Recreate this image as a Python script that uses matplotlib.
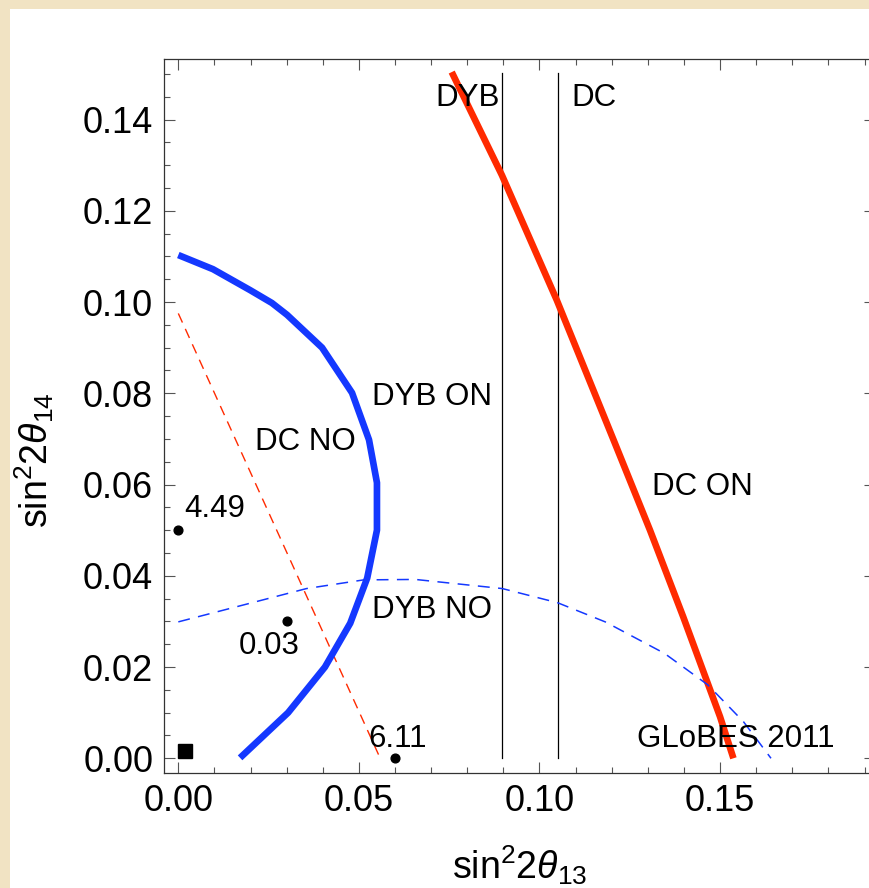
import matplotlib
matplotlib.use("Agg")
import matplotlib.pyplot as plt
from matplotlib.patches import Rectangle
import numpy as np

# ---------------- data ----------------
# thick blue contour (DYB ON)
dyb_on_x = [0.0000, 0.0096, 0.0199, 0.0259, 0.0301, 0.0398, 0.0481, 0.0528, 0.0550,
            0.0550, 0.0523, 0.0476, 0.0406, 0.0304, 0.0171]
dyb_on_y = [0.1103, 0.1072, 0.1026, 0.0998, 0.0972, 0.0900, 0.0801, 0.0698, 0.0604,
            0.0500, 0.0395, 0.0296, 0.0200, 0.0100, 0.0001]
# thick red line (DC ON)
dc_on_x = [0.0757, 0.0896, 0.1048, 0.1205, 0.1306, 0.1398, 0.1500, 0.1537]
dc_on_y = [0.1504, 0.1278, 0.1004, 0.0698, 0.0500, 0.0310, 0.0091, 0.0000]
# dashed red line (DC NO)
dc_no_x = [0.0000, 0.0559]
dc_no_y = [0.0975, 0.0000]
# dashed blue curve (DYB NO)
dyb_no_x = [0.0000, 0.0355, 0.0513, 0.0656, 0.0897, 0.1050, 0.1182, 0.1346, 0.1466, 0.1565, 0.1641]
dyb_no_y = [0.0299, 0.0372, 0.0391, 0.0392, 0.0372, 0.0341, 0.0299, 0.0230, 0.0161, 0.0080, 0.0000]
# vertical best-fit lines
vline_x = [0.0896, 0.1050]
vline_ymax = 0.1501
# points with chi^2 labels
pts_x = [0.000, 0.030, 0.060]
pts_y = [0.050, 0.030, 0.000]
square_x = [0.0019]
square_y = [0.0015]

# text labels: (text, x, y baseline)
labels = [
    ("4.49", 0.0016, 0.0529),
    ("0.03", 0.0166, 0.0229),
    ("6.11", 0.0525, 0.0025),
    ("DC NO", 0.0212, 0.0676),
    ("DYB ON", 0.0536, 0.0774),
    ("DYB NO", 0.0536, 0.0307),
    ("DC ON", 0.1311, 0.0577),
    ("GLoBES 2011", 0.1269, 0.0025),
    ("DYB", 0.0711, 0.1430),
    ("DC", 0.1089, 0.1430),
]

xticks = [0.00, 0.05, 0.10, 0.15]
yticks = [0.00, 0.02, 0.04, 0.06, 0.08, 0.10, 0.12, 0.14]

# ---------------- style ----------------
plt.rcParams['font.family'] = ['Liberation Sans', 'DejaVu Sans']
plt.rcParams['mathtext.fontset'] = 'custom'
plt.rcParams['mathtext.rm'] = 'Liberation Sans'
plt.rcParams['mathtext.it'] = 'Liberation Sans:italic'

W, H = 870, 888
fig = plt.figure(figsize=(W / 100, H / 100), dpi=100)
fig.patch.set_facecolor('#F1E3C3')
bg = fig.add_axes([0, 0, 1, 1], zorder=-10)
bg.set_axis_off()
bg.set_xlim(0, 1)
bg.set_ylim(0, 1)
bg.add_patch(Rectangle((10 / W, 0), 1 - 10 / W, 1 - 9 / H, facecolor='white', edgecolor='none'))

left_px, right_px, top_px, bot_px = 164.3, 875.0, 59.3, 773.3
ax = fig.add_axes([left_px / W, 1 - bot_px / H, (right_px - left_px) / W, (bot_px - top_px) / H])
ax.set_facecolor('white')

blue = '#1438FF'
red = '#FF2A00'

ax.plot(dc_no_x, dc_no_y, color=red, lw=1.0, dashes=(7.2, 5.0), zorder=2)
ax.plot(dyb_no_x, dyb_no_y, color=blue, lw=1.1, dashes=(7.8, 5.5), zorder=4)
ax.plot(dyb_on_x, dyb_on_y, color=blue, lw=4.8, solid_capstyle='butt', solid_joinstyle='round', zorder=3)
ax.plot(dc_on_x, dc_on_y, color=red, lw=4.8, solid_capstyle='butt', solid_joinstyle='round', zorder=3)
for vx in vline_x:
    ax.plot([vx, vx], [0.0, vline_ymax], color='black', lw=0.9, zorder=2)

ax.plot(pts_x, pts_y, 'o', color='black', ms=6.3, zorder=5, clip_on=False)
ax.plot(square_x, square_y, 's', color='black', ms=9.5, zorder=5)

for t, x, y in labels:
    ax.text(x, y, t, fontsize=22.5, ha='left', va='baseline', color='black', zorder=6)

ax.set_xlim(-0.00388, 0.1929)
ax.set_ylim(-0.00329, 0.1532)
ax.set_xticks(xticks)
ax.set_yticks(yticks)
ax.set_xticklabels([f"{v:.2f}" for v in xticks])
ax.set_yticklabels([f"{v:.2f}" for v in yticks])
ax.set_xticks(np.arange(0.0, 0.195, 0.01), minor=True)
ax.set_yticks(np.arange(0.0, 0.155, 0.005), minor=True)

ax.tick_params(which='both', direction='in', top=True, right=True, color='#555555', width=0.8)
ax.tick_params(which='major', length=7.7, labelsize=26, pad=8)
ax.tick_params(which='minor', length=4.5)
for s in ax.spines.values():
    s.set_color('#333333')
    s.set_linewidth(0.9)

ax.set_xlabel(r'sin$^2$2$\theta_{13}$', fontsize=27, labelpad=17)
ax.set_ylabel(r'sin$^2$2$\theta_{14}$', fontsize=27)
ax.yaxis.set_label_coords(-0.152, 0.439)

fig.savefig('out.png', dpi=100, facecolor=fig.get_facecolor())
